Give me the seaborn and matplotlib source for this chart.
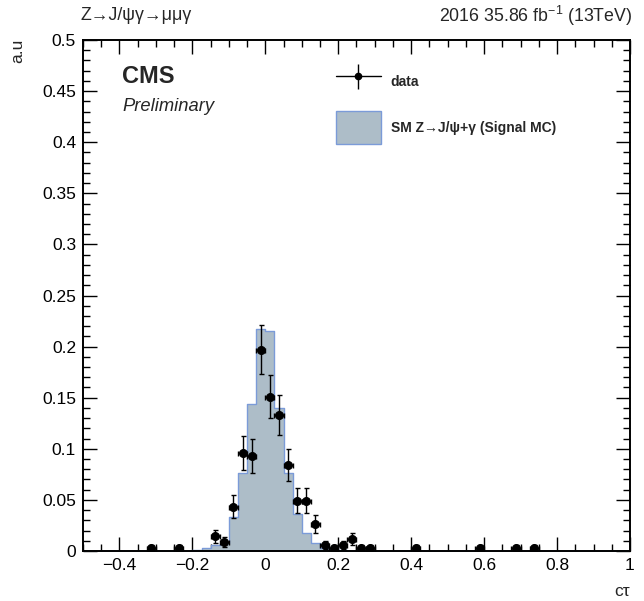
import numpy as np
import pandas as pd
import matplotlib
matplotlib.use("Agg")
import matplotlib.pyplot as plt
from matplotlib.patches import Patch
from matplotlib.lines import Line2D
from matplotlib.ticker import MultipleLocator, FixedLocator
import seaborn as sns

# ---- data ----
bin_edges = [round(-0.5 + 0.025 * i, 4) for i in range(61)]

mc_centers = [-0.1875, -0.1625, -0.1375, -0.1125, -0.0875, -0.0625, -0.0375, -0.0125,
              0.0125, 0.0375, 0.0625, 0.0875, 0.1125, 0.1375, 0.1625, 0.1875, 0.2125, 0.2375]
mc_values = [0.001, 0.0026, 0.006, 0.008, 0.033, 0.076, 0.1435, 0.217,
             0.2155, 0.1396, 0.076, 0.036, 0.0173, 0.0075, 0.003, 0.0015, 0.0008, 0.0004]

data_x = [-0.3125, -0.2375, -0.1375, -0.1125, -0.0875, -0.0625, -0.0375, -0.0125,
          0.0125, 0.0375, 0.0625, 0.0875, 0.1125, 0.1375, 0.1625, 0.1875, 0.2125,
          0.2375, 0.2625, 0.2875, 0.4125, 0.5875, 0.6875, 0.7375]
data_y = [0.0029, 0.0029, 0.0145, 0.0087, 0.0435, 0.0957, 0.0928, 0.197,
          0.151, 0.1334, 0.0841, 0.0493, 0.0493, 0.0261, 0.0058, 0.0029, 0.0058,
          0.0116, 0.0029, 0.0029, 0.0029, 0.0029, 0.0029, 0.0029]
data_yerr = [0.0029, 0.0029, 0.0065, 0.005, 0.0112, 0.0167, 0.0164, 0.0239,
             0.0209, 0.0197, 0.0156, 0.012, 0.012, 0.0087, 0.0041, 0.0029, 0.0041,
             0.0058, 0.0029, 0.0029, 0.0029, 0.0029, 0.0029, 0.0029]
data_xerr = [0.0125] * len(data_x)

x_ticks = [-0.4, -0.2, 0, 0.2, 0.4, 0.6, 0.8, 1]
x_tick_labels = ["\u22120.4", "\u22120.2", "0", "0.2", "0.4", "0.6", "0.8", "1"]
y_ticks = [0, 0.05, 0.1, 0.15, 0.2, 0.25, 0.3, 0.35, 0.4, 0.45, 0.5]
y_tick_labels = ["0", "0.05", "0.1", "0.15", "0.2", "0.25", "0.3", "0.35", "0.4", "0.45", "0.5"]

mc_label = "SM Z\u2192J/\u03c8+\u03b3 (Signal MC)"
data_label = "data"

MC_FACE = "#adbdc8"
MC_EDGE = "#7b9bd8"

# ---- style ----
sns.set_style("ticks")
plt.rcParams['font.family'] = ['Liberation Sans', 'DejaVu Sans']
plt.rcParams['mathtext.fontset'] = 'custom'
plt.rcParams['mathtext.rm'] = 'Liberation Sans'

fig = plt.figure(figsize=(6.44, 6.01), dpi=100)
ax = fig.add_axes([83 / 644, 1 - 551 / 601, (630 - 83) / 644, (551 - 40) / 601])

mc_df = pd.DataFrame({"x": mc_centers, "w": mc_values})
sns.histplot(data=mc_df, x="x", weights="w", bins=bin_edges, element="step",
             fill=True, facecolor=MC_FACE, edgecolor=MC_EDGE, linewidth=1.0,
             alpha=1.0, ax=ax)

ax.errorbar(data_x, data_y, xerr=data_xerr, yerr=data_yerr, fmt="o",
            color="black", markersize=5.5, elinewidth=1.0, capsize=1.8,
            capthick=1.0, zorder=5)

ax.set_xlim(-0.5, 1.0)
ax.set_ylim(0, 0.5)
ax.set_xlabel("")
ax.set_ylabel("")
ax.xaxis.set_major_locator(FixedLocator(x_ticks))
ax.set_xticklabels(x_tick_labels)
ax.xaxis.set_minor_locator(MultipleLocator(0.05))
ax.yaxis.set_major_locator(FixedLocator(y_ticks))
ax.set_yticklabels(y_tick_labels)
ax.yaxis.set_minor_locator(MultipleLocator(0.01))
ax.tick_params(which="both", direction="in", top=True, right=True, width=1.0,
               labelsize=12.5, colors="black")
ax.tick_params(which="major", length=10, pad=5)
ax.tick_params(which="minor", length=5)
for s in ax.spines.values():
    s.set_linewidth(1.4)
    s.set_color("black")

# texts
fig.text(81 / 644, 1 - 16 / 601, "Z\u2192J/\u03c8\u03b3\u2192\u03bc\u03bc\u03b3",
         ha="left", va="center", fontsize=12.8)
fig.text(632 / 644, 1 - 16 / 601, "2016 35.86 fb$^{-1}$ (13TeV)",
         ha="right", va="center", fontsize=12.8)
fig.text(18 / 644, 1 - 39 / 601, "a.u", rotation=90, ha="center", va="top",
         fontsize=12.5)
fig.text(630 / 644, 1 - 592 / 601, "c\u03c4", ha="right", va="center", fontsize=12.5)
ax.text(0.072, 0.928, "CMS", transform=ax.transAxes, fontsize=17, fontweight="bold",
        ha="left", va="center")
ax.text(0.072, 0.870, "Preliminary", transform=ax.transAxes, fontsize=13.2,
        style="italic", ha="left", va="center")

data_handle = (Line2D([], [], color="black", lw=1.0, marker="o", markersize=4.5),
               Line2D([], [], color="black", lw=0, marker="|", markersize=18,
                      markeredgewidth=1.0))
mc_handle = Patch(facecolor=MC_FACE, edgecolor=MC_EDGE, linewidth=1.0)
ax.legend(handles=[data_handle, mc_handle], labels=[data_label, mc_label],
          loc="upper left", bbox_to_anchor=(0.462, 0.950), borderaxespad=0,
          borderpad=0, frameon=False, prop={"weight": "bold", "size": 10},
          handlelength=3.25, handleheight=3.27, handletextpad=0.7,
          labelspacing=0.92)

fig.savefig("out.png", dpi=100)
